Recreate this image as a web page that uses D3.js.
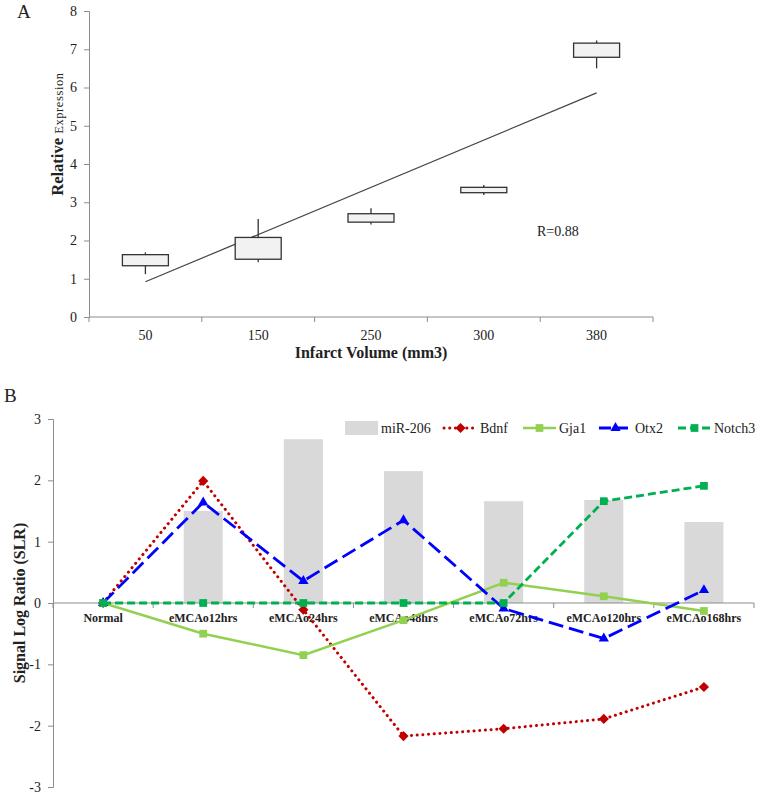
<!DOCTYPE html>
<html>
<head>
<meta charset="utf-8">
<script src="https://cdn.jsdelivr.net/npm/d3@7"></script>
<style>
  body { margin: 0; background: #fff; }
  svg text { font-family: "Liberation Serif", "DejaVu Serif", "Times New Roman", serif; fill: #222; }
</style>
</head>
<body>
<div id="chart"></div>
<script>
// ---- panel A data ----
const volumes = ["50", "150", "250", "300", "380"];
const boxLow = [1.12, 1.43, 2.42, 3.19, 6.50];
const boxQ1 = [1.34, 1.51, 2.48, 3.25, 6.79];
const boxQ3 = [1.63, 2.08, 2.70, 3.39, 7.16];
const boxHigh = [1.69, 2.56, 2.84, 3.45, 7.23];
const trendEnds = [0.92, 5.86];
const yTicksA = [0, 1, 2, 3, 4, 5, 6, 7, 8];

// ---- panel B data ----
const timepoints = ["Normal", "eMCAo12hrs", "eMCAo24hrs", "eMCAo48hrs", "eMCAo72hrs", "eMCAo120hrs", "eMCAo168hrs"];
const mir206 = [0, 1.50, 2.67, 2.15, 1.66, 1.68, 1.32];
const bdnf = [0, 1.99, -0.11, -2.17, -2.05, -1.89, -1.37];
const gja1 = [0, -0.50, -0.85, -0.28, 0.33, 0.11, -0.13];
const otx2 = [0, 1.64, 0.36, 1.35, -0.09, -0.58, 0.21];
const notch3 = [0, 0, 0, 0, 0, 1.66, 1.91];
const yTicksB = [-3, -2, -1, 0, 1, 2, 3];

const axisColor = "#8c8c8c";
const serif = '"Liberation Serif", "DejaVu Serif", serif';

const svg = d3.select("#chart").append("svg")
  .attr("width", 759)
  .attr("height", 797)
  .attr("font-family", serif);

// ================= Panel A =================
const xA = d3.scaleBand().domain(volumes).range([89, 653]).padding(0);
const yA = d3.scaleLinear().domain([0, 8]).range([317, 11]);

svg.append("text").attr("x", 17).attr("y", 18)
  .style("font-size", "19px").text("A");

const gA = svg.append("g");

// y axis
const yAxisA = gA.append("g").attr("transform", "translate(89,0)")
  .call(d3.axisLeft(yA).tickValues(yTicksA).tickFormat(d => String(d)).tickSize(5).tickPadding(7));
yAxisA.attr("font-family", serif);
yAxisA.selectAll("text").style("font-size", "14px");
yAxisA.selectAll("line, path").attr("stroke", axisColor);

// x axis: line + ticks on category boundaries
gA.append("line")
  .attr("x1", xA.range()[0]).attr("x2", xA.range()[1])
  .attr("y1", yA(0)).attr("y2", yA(0))
  .attr("stroke", axisColor);
const boundsA = volumes.map(v => xA(v)).concat([xA.range()[1]]);
gA.selectAll(".xtick").data(boundsA).enter().append("line")
  .attr("x1", d => d).attr("x2", d => d)
  .attr("y1", yA(0)).attr("y2", yA(0) + 5)
  .attr("stroke", axisColor);
gA.selectAll(".xlab").data(volumes).enter().append("text")
  .attr("x", d => xA(d) + xA.bandwidth() / 2)
  .attr("y", yA(0) + 23)
  .attr("text-anchor", "middle")
  .style("font-size", "14px")
  .text(d => d);

gA.append("text")
  .attr("x", (xA.range()[0] + xA.range()[1]) / 2)
  .attr("y", 358)
  .attr("text-anchor", "middle")
  .style("font-size", "16px").style("font-weight", "bold")
  .text("Infarct Volume (mm3)");

const yTitleA = gA.append("text")
  .attr("transform", "translate(63,134) rotate(-90)")
  .attr("text-anchor", "middle");
yTitleA.append("tspan").style("font-size", "16.5px").style("font-weight", "bold").text("Relative ");
yTitleA.append("tspan").style("font-size", "12.5px").style("letter-spacing", "0.6px").text("Expression");

// trend line
gA.append("line")
  .attr("x1", xA(volumes[0]) + xA.bandwidth() / 2)
  .attr("x2", xA(volumes[volumes.length - 1]) + xA.bandwidth() / 2)
  .attr("y1", yA(trendEnds[0]))
  .attr("y2", yA(trendEnds[1]))
  .attr("stroke", "#444").attr("stroke-width", 1.2);

// boxes
const boxW = 46;
const boxes = gA.selectAll(".box").data(volumes).enter().append("g");
boxes.append("line")
  .attr("x1", d => xA(d) + xA.bandwidth() / 2)
  .attr("x2", d => xA(d) + xA.bandwidth() / 2)
  .attr("y1", (d, i) => yA(boxLow[i]))
  .attr("y2", (d, i) => yA(boxHigh[i]))
  .attr("stroke", "#333").attr("stroke-width", 1.3);
boxes.append("rect")
  .attr("x", d => xA(d) + xA.bandwidth() / 2 - boxW / 2)
  .attr("width", boxW)
  .attr("y", (d, i) => yA(boxQ3[i]))
  .attr("height", (d, i) => yA(boxQ1[i]) - yA(boxQ3[i]))
  .attr("fill", "#f2f2f2").attr("stroke", "#333").attr("stroke-width", 1.3);

gA.append("text").attr("x", 537).attr("y", 236)
  .style("font-size", "14px").text("R=0.88");

// ================= Panel B =================
const xB = d3.scaleBand().domain(timepoints).range([53, 754]).padding(0);
const yB = d3.scaleLinear().domain([-3, 3]).range([787, 419]);
const cx = d => xB(d) + xB.bandwidth() / 2;

svg.append("text").attr("x", 4).attr("y", 402)
  .style("font-size", "19px").text("B");

const gB = svg.append("g");

const yAxisB = gB.append("g").attr("transform", "translate(53,0)")
  .call(d3.axisLeft(yB).tickValues(yTicksB).tickFormat(d => String(d)).tickSize(5).tickPadding(7));
yAxisB.attr("font-family", serif);
yAxisB.selectAll("text").style("font-size", "14px");
yAxisB.selectAll("line, path").attr("stroke", axisColor);

gB.append("text")
  .attr("transform", `translate(25,${yB(0)}) rotate(-90)`)
  .attr("text-anchor", "middle")
  .style("font-size", "16px").style("font-weight", "bold")
  .text("Signal Log Ratio (SLR)");

// bars
const barW = xB.bandwidth() * 0.39;
gB.selectAll(".bar").data(timepoints).enter().append("rect")
  .attr("x", d => cx(d) - barW / 2)
  .attr("width", barW)
  .attr("y", (d, i) => yB(Math.max(0, mir206[i])))
  .attr("height", (d, i) => Math.abs(yB(mir206[i]) - yB(0)))
  .attr("fill", "#d9d9d9");

// x axis at zero
gB.append("line")
  .attr("x1", xB.range()[0]).attr("x2", xB.range()[1])
  .attr("y1", yB(0)).attr("y2", yB(0))
  .attr("stroke", axisColor);
const boundsB = timepoints.map(t => xB(t)).concat([xB.range()[1]]);
gB.selectAll(".xtickB").data(boundsB).enter().append("line")
  .attr("x1", d => d).attr("x2", d => d)
  .attr("y1", yB(0)).attr("y2", yB(0) + 5)
  .attr("stroke", axisColor);
gB.selectAll(".xlabB").data(timepoints).enter().append("text")
  .attr("x", d => cx(d))
  .attr("y", yB(0) + 19)
  .attr("text-anchor", "middle")
  .style("font-size", "12px").style("font-weight", "bold")
  .text(d => d);

// series
const series = [
  { name: "Bdnf", values: bdnf, color: "#c00000", dash: "0.1,5.6", cap: "round", width: 3, marker: "diamond" },
  { name: "Gja1", values: gja1, color: "#92d050", dash: null, cap: "butt", width: 2.5, marker: "square" },
  { name: "Otx2", values: otx2, color: "#0000ff", dash: "15,6", cap: "butt", width: 2.8, marker: "triangle" },
  { name: "Notch3", values: notch3, color: "#00b050", dash: "8,4", cap: "butt", width: 2.8, marker: "square" }
];
// diamond = square turned 45 degrees (Excel style, not the tall d3 diamond)
const symbolType = { diamond: d3.symbolSquare, square: d3.symbolSquare, triangle: d3.symbolTriangle };
const symbolSize = { diamond: 52, square: 60, triangle: 46 };
const symbolRot = { diamond: 45, square: 0, triangle: 0 };

const line = d3.line().x(d => cx(d.t)).y(d => yB(d.v));

series.forEach(s => {
  const pts = timepoints.map((t, i) => ({ t, v: s.values[i] }));
  gB.append("path")
    .datum(pts)
    .attr("d", line)
    .attr("fill", "none")
    .attr("stroke", s.color)
    .attr("stroke-width", s.width)
    .attr("stroke-linecap", s.cap)
    .attr("stroke-dasharray", s.dash);
  gB.selectAll(null).data(pts).enter().append("path")
    .attr("transform", d => `translate(${cx(d.t)},${yB(d.v)}) rotate(${symbolRot[s.marker]})`)
    .attr("d", d3.symbol().type(symbolType[s.marker]).size(symbolSize[s.marker]))
    .attr("fill", s.color);
});

// legend
const leg = gB.append("g").attr("transform", "translate(0,428)");
leg.append("rect").attr("x", 345).attr("y", -7).attr("width", 33).attr("height", 14).attr("fill", "#d9d9d9");
leg.append("text").attr("x", 381).attr("y", 5).style("font-size", "14px").text("miR-206");
const legX = [444, 523, 599, 678];
series.forEach((s, i) => {
  leg.append("line")
    .attr("x1", legX[i]).attr("x2", legX[i] + 33)
    .attr("y1", 0).attr("y2", 0)
    .attr("stroke", s.color)
    .attr("stroke-width", s.width)
    .attr("stroke-linecap", s.cap)
    .attr("stroke-dasharray", s.dash === "15,6" ? "12,5" : s.dash);
  leg.append("path")
    .attr("transform", `translate(${legX[i] + 16.5},0) rotate(${symbolRot[s.marker]})`)
    .attr("d", d3.symbol().type(symbolType[s.marker]).size(symbolSize[s.marker]))
    .attr("fill", s.color);
  leg.append("text").attr("x", legX[i] + 36).attr("y", 5)
    .style("font-size", "14px").text(s.name);
});
</script>
</body>
</html>
